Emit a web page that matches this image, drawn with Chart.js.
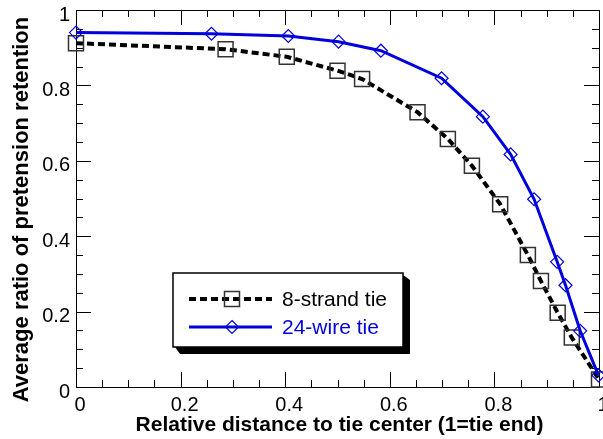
<!DOCTYPE html>
<html>
<head>
<meta charset="utf-8">
<script src="https://cdn.jsdelivr.net/npm/chart.js@4.4.1/dist/chart.umd.min.js"></script>
<style>
  html, body { margin: 0; padding: 0; background: #fff; }
  #wrap { width: 603px; height: 439px; position: relative; }
</style>
</head>
<body>
<div id="wrap"><canvas id="c" width="603" height="439"></canvas></div>
<script>
// ---- data ----
const seriesNames = ['8-strand tie', '24-wire tie'];
const strandX = [0, 0.286, 0.403, 0.500, 0.547, 0.653, 0.711, 0.757, 0.811, 0.864, 0.889, 0.921, 0.948, 1.0];
const strandY = [0.912, 0.896, 0.876, 0.839, 0.817, 0.729, 0.658, 0.587, 0.485, 0.350, 0.281, 0.197, 0.131, 0.020];
const wireX = [0, 0.259, 0.406, 0.502, 0.583, 0.699, 0.778, 0.831, 0.876, 0.920, 0.936, 0.964, 0.999];
const wireY = [0.940, 0.937, 0.931, 0.916, 0.892, 0.819, 0.717, 0.617, 0.498, 0.332, 0.270, 0.149, 0.031];
const xTitle = 'Relative distance to tie center (1=tie end)';
const yTitle = 'Average ratio of pretension retention';
const axisMin = 0, axisMax = 1, majorStep = 0.2, minorStep = 0.05;

const FONT = "'Liberation Sans', Arial, sans-serif";
const BLUE = '#0000dc';

const toPts = (xs, ys) => xs.map((x, i) => ({x: x, y: ys[i]}));
const fmt = v => String(Math.round(v * 10) / 10);
const noPad = s => { s.paddingLeft = 0; s.paddingRight = 0; s.paddingTop = 0; s.paddingBottom = 0; };

const frame = {
  id: 'frame',
  beforeDatasetsDraw(chart) {
    const {ctx, chartArea: a, scales: {x, y}} = chart;
    ctx.save();
    ctx.strokeStyle = '#000';
    ctx.lineWidth = 1;
    const n = Math.round((axisMax - axisMin) / minorStep);
    for (let i = 0; i <= n; i++) {
      const v = axisMin + i * minorStep;
      const major = (i % Math.round(majorStep / minorStep)) === 0;
      const len = major ? 15 : 7;
      const px = Math.round(x.getPixelForValue(v)) + 0.5;
      ctx.beginPath();
      ctx.moveTo(px, a.bottom); ctx.lineTo(px, a.bottom - len);
      ctx.moveTo(px, a.top); ctx.lineTo(px, a.top + len);
      ctx.stroke();
      const py = Math.round(y.getPixelForValue(v)) + 0.5;
      ctx.beginPath();
      ctx.moveTo(a.left, py); ctx.lineTo(a.left + len, py);
      ctx.moveTo(a.right, py); ctx.lineTo(a.right - len, py);
      ctx.stroke();
    }
    ctx.strokeRect(Math.round(a.left) + 0.5, Math.round(a.top) + 0.5,
                   Math.round(a.right - a.left), Math.round(a.bottom - a.top));
    ctx.restore();
  },
  afterDraw(chart) {
    const ctx = chart.ctx;
    const ds = chart.data.datasets;
    const a = chart.chartArea;
    ctx.save();
    // axis titles
    ctx.fillStyle = '#000';
    ctx.textAlign = 'center';
    ctx.textBaseline = 'middle';
    ctx.font = 'bold 21px ' + FONT;
    ctx.fillText(xTitle, (a.left + a.right) / 2 + 2, 425);
    ctx.save();
    ctx.translate(21.5, 209.5);
    ctx.rotate(-Math.PI / 2);
    ctx.font = 'bold 22px ' + FONT;
    ctx.fillText(yTitle, 0, 0);
    ctx.restore();

    // legend box
    const bx = 173, by = 273, bw = 230, bh = 74, sh = 7;
    ctx.fillStyle = '#000';
    ctx.beginPath();
    ctx.moveTo(bx + bw, by + 2);
    ctx.lineTo(bx + bw + sh, by + sh);
    ctx.lineTo(bx + bw + sh, by + bh + sh);
    ctx.lineTo(bx + sh, by + bh + sh);
    ctx.lineTo(bx + 2, by + bh);
    ctx.closePath();
    ctx.fill();
    ctx.fillStyle = '#fff';
    ctx.fillRect(bx, by, bw, bh);
    ctx.strokeStyle = '#000';
    ctx.lineWidth = 1.5;
    ctx.strokeRect(bx, by, bw, bh);
    const rows = [299, 327];
    ds.forEach((d, i) => {
      const yy = rows[i];
      ctx.beginPath();
      ctx.strokeStyle = d.borderColor;
      ctx.lineWidth = d.borderWidth;
      ctx.setLineDash(d.borderDash || []);
      ctx.moveTo(189, yy); ctx.lineTo(272, yy);
      ctx.stroke();
      ctx.setLineDash([]);
      ctx.lineWidth = d.pointBorderWidth;
      ctx.strokeStyle = d.pointBorderColor;
      ctx.beginPath();
      if (d.pointStyle === 'rect') {
        ctx.rect(224.5, yy - 7.5, 15, 15);
      } else {
        const r = d.pointRadius;
        ctx.moveTo(232, yy - r); ctx.lineTo(232 + r, yy); ctx.lineTo(232, yy + r); ctx.lineTo(232 - r, yy); ctx.closePath();
      }
      ctx.stroke();
      ctx.fillStyle = i === 0 ? '#000' : BLUE;
      ctx.font = '21px ' + FONT;
      ctx.textBaseline = 'middle';
      ctx.textAlign = 'left';
      ctx.fillText(d.label, 282, yy + 1);
    });
    ctx.restore();
  }
};

new Chart(document.getElementById('c'), {
  type: 'scatter',
  data: {
    datasets: [
      {
        label: seriesNames[0],
        data: toPts(strandX, strandY),
        showLine: true,
        borderColor: '#000',
        borderWidth: 4,
        borderDash: [7, 4],
        pointStyle: 'rect',
        pointRadius: 10.6,
        pointBorderColor: '#333',
        pointBorderWidth: 1.5,
        pointBackgroundColor: 'rgba(0,0,0,0)',
        backgroundColor: 'rgba(0,0,0,0)',
        clip: false,
        order: 2
      },
      {
        label: seriesNames[1],
        data: toPts(wireX, wireY),
        showLine: true,
        borderColor: BLUE,
        borderWidth: 3,
        pointStyle: 'rectRot',
        pointRadius: 6.5,
        pointBorderColor: BLUE,
        pointBorderWidth: 1.2,
        pointBackgroundColor: 'rgba(0,0,0,0)',
        backgroundColor: 'rgba(0,0,0,0)',
        clip: false,
        order: 1
      }
    ]
  },
  options: {
    responsive: false,
    animation: false,
    devicePixelRatio: 1,
    layout: { padding: { top: 10, right: 4, left: 0, bottom: 0 }, autoPadding: false },
    plugins: { legend: { display: false }, tooltip: { enabled: false } },
    scales: {
      x: {
        type: 'linear', min: axisMin, max: axisMax,
        border: { display: false },
        grid: { display: false, drawTicks: false },
        ticks: { stepSize: majorStep, autoSkip: false, maxRotation: 0, align: 'center', color: '#000',
                 font: { family: FONT, size: 20 }, padding: 6, labelOffset: 4, callback: fmt },
        title: { display: false, text: xTitle },
        afterFit(s) { s.height = 52; noPad(s); }
      },
      y: {
        type: 'linear', min: axisMin, max: axisMax,
        border: { display: false },
        grid: { display: false, drawTicks: false },
        ticks: { stepSize: majorStep, autoSkip: false, color: '#000',
                 font: { family: FONT, size: 20 }, padding: 6, labelOffset: 5, callback: fmt },
        title: { display: false, text: yTitle },
        afterFit(s) { s.width = 76; noPad(s); }
      }
    }
  },
  plugins: [frame]
});
</script>
</body>
</html>
